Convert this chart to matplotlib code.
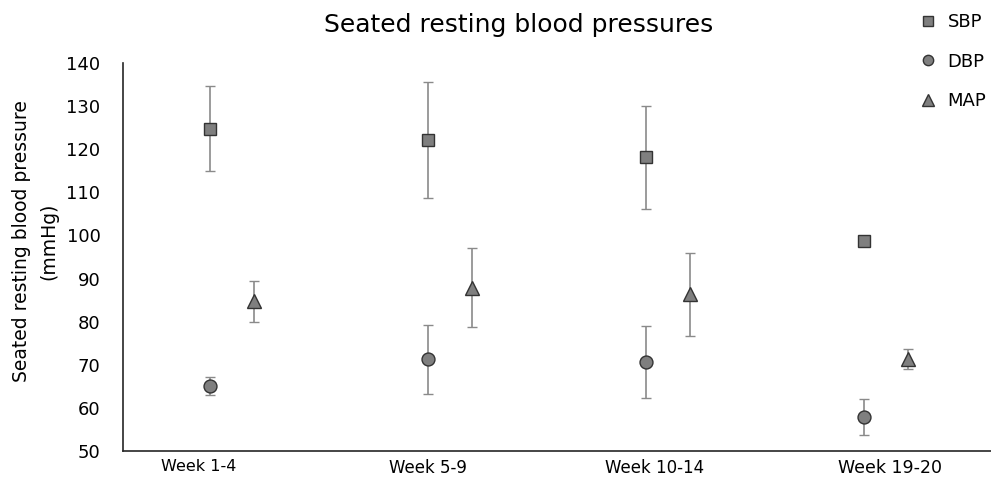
import matplotlib
matplotlib.use("Agg")
import matplotlib.pyplot as plt
import numpy as np

# values (mmHg)
weeks = ["Week 1-4", "Week 5-9", "Week 10-14", "Week 19-20"]
sbp = [124.8, 122.1, 118.1, 98.8]
sbp_err = [9.9, 13.4, 12.0, 0.0]
dbp = [65.0, 71.3, 70.7, 57.8]
dbp_err = [2.1, 8.0, 8.3, 4.2]
mean_ap = [84.7, 87.9, 86.3, 71.4]
mean_ap_err = [4.7, 9.1, 9.6, 2.3]

plt.rcParams['font.family'] = ['DejaVu Sans']

fig = plt.figure(figsize=(9.91, 4.79), dpi=100)
ax = fig.add_axes([0.1238, 0.0585, 0.8762, 0.8100])

x = np.arange(1, len(weeks) + 1)
face = '#7f7f7f'
edge = '#333333'
bar = '#8a8a8a'

style = dict(linestyle='none', mfc=face, mec=edge, mew=1.0,
             ecolor=bar, elinewidth=1.2, capsize=3.8, capthick=1.0)

c1 = ax.errorbar(x, sbp, yerr=sbp_err, marker='s', ms=9, **style)
c2 = ax.errorbar(x, dbp, yerr=dbp_err, marker='o', ms=9.3, **style)
c3 = ax.errorbar(x + 0.2, mean_ap, yerr=mean_ap_err, marker='^', ms=10, **style)

ax.set_xlim(0.6, 4.581)
ax.set_ylim(50, 140)
ax.set_yticks(np.arange(50, 141, 10))

# category labels sit a little off the point columns in the original
label_shift = [-0.052, 0.0, 0.04, 0.12]
ax.set_xticks(x + np.array(label_shift))
ax.set_xticklabels(weeks)
for lbl, fs in zip(ax.get_xticklabels(), [11.5, 12, 12, 12.5]):
    lbl.set_fontsize(fs)

ax.tick_params(axis='y', length=0, pad=16, labelsize=13)
ax.tick_params(axis='x', length=0, pad=6)

for s in ['top', 'right']:
    ax.spines[s].set_visible(False)
for s in ['left', 'bottom']:
    ax.spines[s].set_color('#262626')
    ax.spines[s].set_linewidth(1.2)

ax.set_ylabel("Seated resting blood pressure\n(mmHg)", fontsize=13.5,
              linespacing=1.55, va='center', ha='center')
ax.yaxis.set_label_coords(-0.101, 0.54)

fig.text(519 / 991, 1 - 25 / 479, "Seated resting blood pressures",
         ha='center', va='center', fontsize=18)

fig.legend(handles=[c1[0], c2[0], c3[0]], labels=["SBP", "DBP", "MAP"],
           loc='upper left', bbox_to_anchor=(0.929, 0.973),
           bbox_transform=fig.transFigure, frameon=False, fontsize=13,
           markerscale=0.8, handlelength=0.8, handletextpad=0.7,
           labelspacing=1.2, borderpad=0, borderaxespad=0)

fig.savefig("out.png", dpi=100)
